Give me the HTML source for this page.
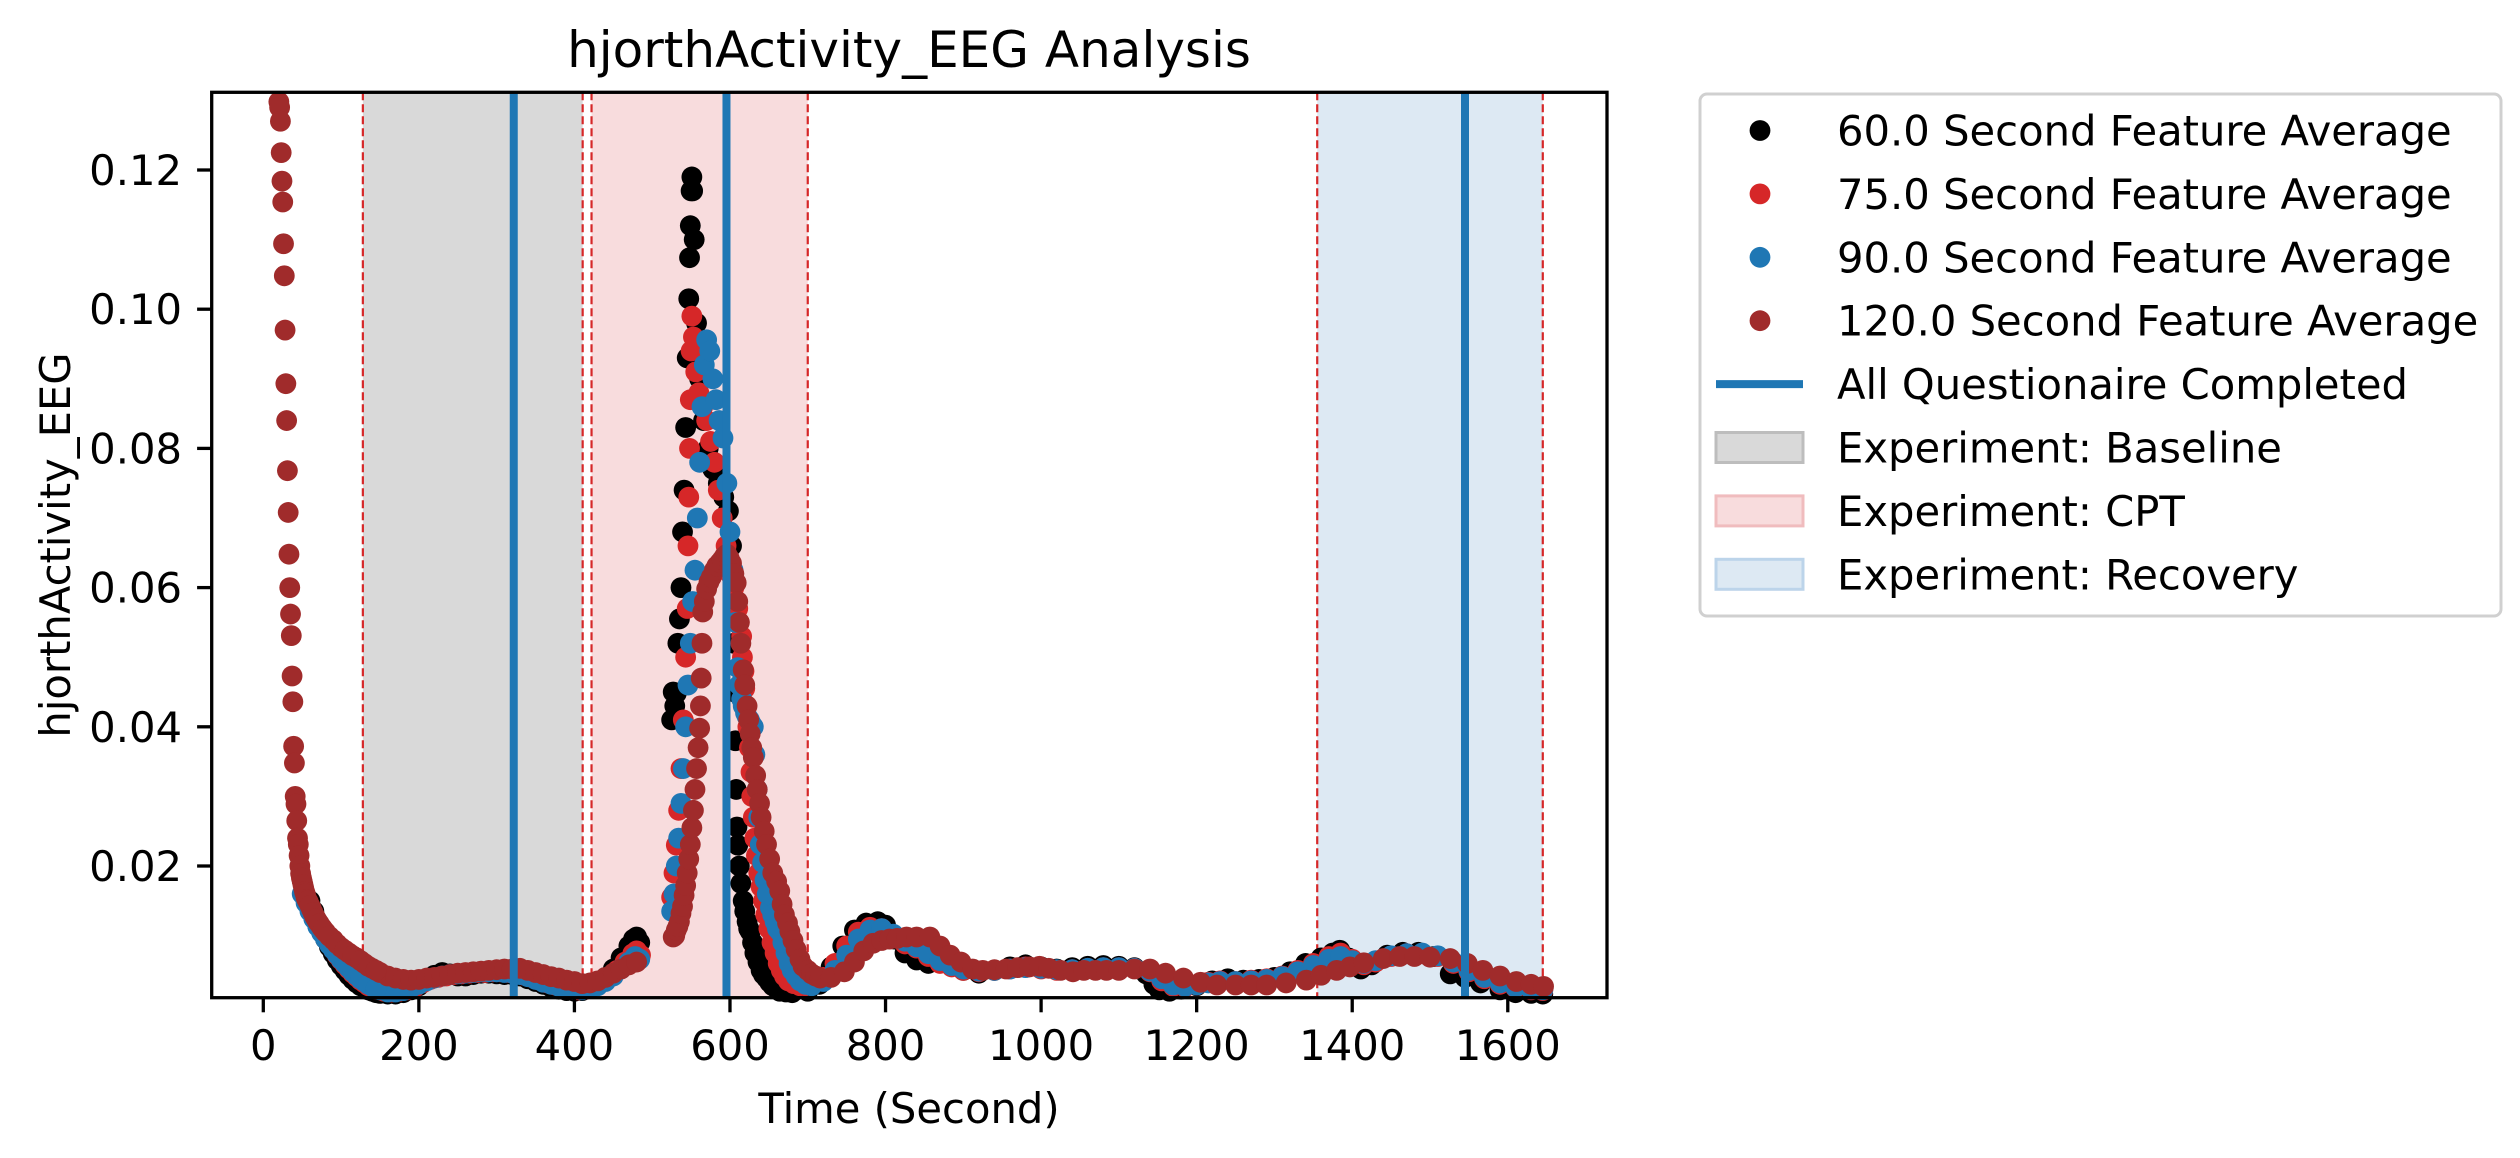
<!DOCTYPE html>
<html><head><meta charset="utf-8"><style>
html,body{margin:0;padding:0;background:#fff;}
svg{display:block;font-family:"DejaVu Sans","Liberation Sans",sans-serif;}
</style></head><body>
<svg id="chart" width="2520" height="1158" viewBox="0 0 2520 1158" xmlns="http://www.w3.org/2000/svg">
<rect x="0" y="0" width="2520" height="1158" fill="#fff"/>
<g id="spans"></g><g id="dots"></g><g id="vlines"></g><g id="axes"></g><g id="legend"></g>
</svg>
<script>
const xTicks=[0,200,400,600,800,1000,1200,1400,1600];
const yTicks=[0.02,0.04,0.06,0.08,0.10,0.12];
const yTickLabels=["0.02","0.04","0.06","0.08","0.10","0.12"];
const spanNames=["Baseline","CPT","Recovery"];
const spanStart=[128,422,1355];
const spanEnd=[410.6,700,1645];
const questionnaireTimes=[322,595.5,1545];
const t60=[60,70,80,90,100,110,120,130,140,150,160,170,180,190,200,210,220,230,240,250,260,270,280,290,300,310,320,330,340,350,360,370,380,390,400,410,420,430,440,450,460,470,476,480,484,525,527,529,531,533,535,537,539,541,543,545,547,548,549,550,551,552,554,557,561,566,572,578,585,592,598,602,604,605,606,607,608,609,612,617,622,626,632,640,647,655,664,680,700,715,730,745,760,775,790,800,812,825,840,855,870,885,900,920,940,960,980,1000,1020,1040,1060,1080,1100,1120,1135,1145,1152,1165,1180,1200,1220,1240,1260,1280,1300,1320,1340,1360,1375,1384,1395,1411,1425,1445,1465,1485,1505,1526,1545,1565,1590,1610,1630,1645,
610,614,619,624,629,636,643,651,660,672,65,75,85,95,105,115,125,135,145];
const v60=[0.0150,0.0120,0.0095,0.0074,0.0057,0.0043,0.0032,0.0025,0.0020,0.0017,0.0016,0.0016,0.0018,0.0022,0.0028,0.0036,0.0043,0.0047,0.0045,0.0042,0.0042,0.0044,0.0046,0.0046,0.0045,0.0044,0.0044,0.0042,0.0038,0.0034,0.0030,0.0026,0.0023,0.0021,0.0020,0.0021,0.0025,0.0031,0.0040,0.0052,0.0068,0.0085,0.0095,0.0098,0.0090,0.041,0.045,0.043,0.0448,0.052,0.0555,0.060,0.068,0.074,0.083,0.093,0.1015,0.1074,0.112,0.117,0.119,0.117,0.110,0.098,0.090,0.084,0.080,0.077,0.075,0.073,0.071,0.066,0.060,0.052,0.045,0.038,0.031,0.0256,0.020,0.015,0.012,0.0106,0.0075,0.0050,0.0039,0.0028,0.0020,0.0018,0.0020,0.0030,0.0055,0.0085,0.0108,0.0118,0.0120,0.0115,0.0095,0.0075,0.0065,0.0060,0.0062,0.0058,0.0050,0.0046,0.0050,0.0055,0.0058,0.0055,0.0052,0.0054,0.0056,0.0057,0.0056,0.0054,0.0045,0.0030,0.0022,0.0020,0.0023,0.0028,0.0035,0.0038,0.0036,0.0037,0.0040,0.0048,0.0060,0.0068,0.0075,0.0079,0.0068,0.0052,0.0058,0.0072,0.0076,0.0076,0.0070,0.0045,0.0040,0.0032,0.0022,0.0018,0.0017,0.0016,
0.023,0.0175,0.0135,0.011,0.009,0.0062,0.0044,0.0033,0.0024,0.0019,0.0135,0.0107,0.0084,0.0065,0.0050,0.0037,0.0028,0.0022,0.0018];
const t75=[55,65,75,85,95,105,115,125,135,145,155,165,175,185,195,205,215,225,235,245,255,265,275,285,295,305,315,325,335,345,355,365,375,385,395,405,415,425,435,445,455,465,475,480,485,525,528,531,534,537,540,543,545,546,547,548,549,550,551,553,556,560,565,570,575,580,585,590,595,600,605,610,615,618,621,625,628,632,637,643,650,658,666,675,690,705,720,735,750,765,780,795,810,825,840,855,870,885,900,920,940,960,980,1000,1020,1040,1060,1080,1100,1120,1140,1155,1170,1185,1200,1215,1230,1250,1270,1290,1310,1330,1350,1370,1385,1400,1415,1430,1450,1470,1490,1510,1530,1550,1570,1590,1610,1630,1645,
612,616,619,623,627,630,634,640,646,654,662,670,682,697,60,70,80,90,100,110,120,130,140];
const v75=[0.0150,0.0125,0.0105,0.0088,0.0072,0.0058,0.0046,0.0036,0.0028,0.0023,0.0020,0.0019,0.0020,0.0022,0.0026,0.0032,0.0037,0.0040,0.0042,0.0044,0.0045,0.0046,0.0047,0.0047,0.0048,0.0048,0.0047,0.0046,0.0043,0.0040,0.0036,0.0032,0.0029,0.0026,0.0024,0.0022,0.0023,0.0027,0.0033,0.0040,0.0050,0.0062,0.0074,0.0078,0.0072,0.0155,0.019,0.023,0.028,0.034,0.041,0.050,0.057,0.066,0.073,0.080,0.087,0.094,0.099,0.096,0.091,0.088,0.086,0.084,0.081,0.078,0.074,0.070,0.066,0.062,0.060,0.057,0.053,0.048,0.043,0.037,0.030,0.024,0.019,0.015,0.011,0.0075,0.0050,0.0035,0.0028,0.0030,0.0040,0.0060,0.0085,0.0105,0.0112,0.0110,0.0098,0.0088,0.0082,0.0070,0.0060,0.0055,0.0050,0.0048,0.0050,0.0052,0.0055,0.0052,0.0050,0.0051,0.0053,0.0054,0.0054,0.0053,0.0048,0.0035,0.0027,0.0026,0.0029,0.0033,0.0035,0.0034,0.0036,0.0038,0.0042,0.0050,0.0060,0.0070,0.0075,0.0066,0.0058,0.0062,0.0070,0.0074,0.0074,0.0070,0.0060,0.0048,0.0038,0.0030,0.0025,0.0022,0.0021,
0.055,0.050,0.0455,0.040,0.0335,0.027,0.0215,0.017,0.013,0.009,0.006,0.0042,0.0031,0.0028,0.0137,0.0115,0.0096,0.0080,0.0065,0.0052,0.0041,0.0032,0.0025];
const t90=[50,60,70,80,90,100,110,120,130,140,150,160,170,180,190,200,210,220,230,240,250,260,270,280,290,300,310,320,330,340,350,360,370,380,390,400,410,420,430,440,450,460,470,478,484,525,528,531,534,537,540,543,546,549,552,555,558,561,564,567,570,574,578,582,586,591,596,600,604,607,610,615,620,625,630,635,639,645,652,658,664,672,680,690,705,720,735,750,765,780,795,810,825,840,855,870,885,900,920,940,960,980,1000,1020,1040,1060,1080,1100,1120,1140,1155,1170,1185,1200,1215,1230,1250,1270,1290,1310,1330,1350,1370,1385,1400,1415,1430,1450,1470,1490,1510,1530,1550,1570,1590,1610,1630,1645,
612,617,622,627,632,637,642,648,655,661,668,676,685,697,55,65,75,85,95,105,115,125,135,145];
const v90=[0.0160,0.0135,0.0113,0.0095,0.0080,0.0066,0.0054,0.0043,0.0034,0.0027,0.0022,0.0019,0.0019,0.0021,0.0025,0.0030,0.0035,0.0039,0.0042,0.0044,0.0045,0.0046,0.0047,0.0048,0.0048,0.0048,0.0047,0.0046,0.0044,0.0041,0.0037,0.0033,0.0030,0.0027,0.0025,0.0023,0.0022,0.0024,0.0028,0.0034,0.0042,0.0052,0.0062,0.0070,0.0066,0.0135,0.016,0.020,0.024,0.029,0.034,0.040,0.046,0.052,0.058,0.0625,0.070,0.078,0.086,0.092,0.0956,0.094,0.090,0.087,0.084,0.0815,0.075,0.068,0.0625,0.055,0.0485,0.044,0.042,0.041,0.040,0.031,0.0231,0.018,0.014,0.012,0.0106,0.0075,0.0050,0.0035,0.0028,0.0034,0.0050,0.0072,0.0095,0.0108,0.0110,0.0102,0.0092,0.0084,0.0074,0.0064,0.0057,0.0052,0.0049,0.0050,0.0052,0.0054,0.0053,0.0051,0.0051,0.0053,0.0054,0.0054,0.0053,0.0049,0.0038,0.0029,0.0027,0.0029,0.0032,0.0034,0.0034,0.0035,0.0037,0.0041,0.0048,0.0057,0.0066,0.0070,0.0064,0.0060,0.0064,0.0071,0.0074,0.0075,0.0071,0.0062,0.0050,0.0040,0.0032,0.0026,0.0023,0.0022,
0.046,0.043,0.0415,0.0405,0.036,0.027,0.0205,0.016,0.013,0.011,0.009,0.006,0.0042,0.0030,0.0147,0.0124,0.0104,0.0087,0.0073,0.0060,0.0048,0.0038,0.0030,0.0024];
const t120=[20,21,22,23,24,25,26,27,28,29,30,31,32,33,34,35,36,37,38,39,40,41,42,43,44,45,46,47,48,50,52,55,58,62,66,70,75,80,90,100,110,120,130,140,150,160,170,180,190,200,210,220,230,240,250,260,270,280,290,300,310,320,330,340,350,360,370,380,390,400,410,420,430,440,450,460,470,480,
527,529,531,533,535,537,539,541,543,545,547,549,551,553,555,557,559,561,562,563,564,565,567,570,573,576,580,583,587,590,593,596,599,602,605,608,610,612,614,617,619,622,624,626,628,630,633,635,638,640,644,647,651,655,660,664,667,670,674,677,681,685,690,694,700,705,710,716,
730,747,760,772,784,795,805,815,827,840,857,870,883,897,912,925,940,955,970,985,998,1010,1025,1041,1055,1070,1084,1100,1120,1140,1160,1183,1205,1226,1250,1270,1290,1315,1341,1360,1380,1397,1415,1440,1461,1480,1500,1526,1548,1568,1590,1611,1630,1646,
49,51,53,54,56,57,60,64,68,72,77,85,95,105,115,125,135,145];
const v120=[0.1298,0.1290,0.1270,0.1225,0.1184,0.1154,0.1094,0.1048,0.0970,0.0893,0.0840,0.0768,0.0708,0.0648,0.0600,0.0562,0.0531,0.0473,0.0436,0.0372,0.0348,0.0300,0.0289,0.0265,0.0240,0.0231,0.0215,0.0200,0.0189,0.0178,0.0168,0.0155,0.0148,0.0138,0.0128,0.0120,0.0112,0.0105,0.0094,0.0083,0.0075,0.0068,0.0060,0.0053,0.0047,0.0042,0.0039,0.0037,0.0036,0.0037,0.0039,0.0040,0.0042,0.0044,0.0046,0.0047,0.0048,0.0049,0.0050,0.0051,0.0052,0.0052,0.0053,0.0050,0.0047,0.0044,0.0041,0.0039,0.0036,0.0034,0.0031,0.0032,0.0035,0.0040,0.0046,0.0052,0.0058,0.0062,
0.0098,0.0100,0.0108,0.0113,0.012,0.0132,0.0142,0.0158,0.0172,0.019,0.021,0.0231,0.0255,0.028,0.031,0.034,0.037,0.0398,0.043,0.047,0.052,0.0565,0.058,0.0598,0.0608,0.0615,0.0625,0.0631,0.0636,0.064,0.0645,0.0648,0.0642,0.0635,0.062,0.0607,0.058,0.055,0.052,0.0482,0.046,0.043,0.041,0.039,0.037,0.0356,0.033,0.031,0.029,0.027,0.025,0.0231,0.021,0.019,0.0178,0.0164,0.0145,0.013,0.0118,0.0106,0.0093,0.008,0.0066,0.0056,0.005,0.0045,0.0042,0.0039,
0.0040,0.0048,0.0062,0.0078,0.0089,0.0093,0.0095,0.0096,0.0098,0.0098,0.0098,0.0085,0.0072,0.0062,0.0052,0.0050,0.0051,0.0052,0.0054,0.0055,0.0056,0.0053,0.0050,0.0048,0.0050,0.0050,0.0050,0.0050,0.0052,0.0052,0.0046,0.0039,0.0033,0.0029,0.0029,0.0029,0.0029,0.0032,0.0036,0.0043,0.0050,0.0055,0.0061,0.0067,0.0070,0.0070,0.0069,0.0067,0.0060,0.0050,0.0042,0.0034,0.0030,0.0027,
0.0183,0.0173,0.0163,0.0160,0.0152,0.0150,0.0143,0.0133,0.0124,0.0117,0.0109,0.0099,0.0088,0.0079,0.0071,0.0064,0.0056,0.0050];

const NS="http://www.w3.org/2000/svg";
const L=211.7,R=1607,T=92.3,B=997.7;
const X0=263.3,XS=0.7778;
const Y02=866,YS=6960;
function xS(t){return X0+t*XS;}
function yS(v){return Y02-(v-0.02)*YS;}
function mk(tag,attrs,parent){const e=document.createElementNS(NS,tag);for(const k in attrs)e.setAttribute(k,attrs[k]);parent.appendChild(e);return e;}

const spanG=document.getElementById('spans');
const spanFill=["#d9d9d9","#f8dcdd","#dde9f3"];
for(let i=0;i<spanNames.length;i++){
  const r=mk('rect',{x:xS(spanStart[i]),y:T,width:xS(spanEnd[i])-xS(spanStart[i]),height:B-T,fill:spanFill[i]},spanG);
  
  
  [spanStart[i],spanEnd[i]].forEach(function(t){
    const d=mk('line',{x1:xS(t),x2:xS(t),y1:T,y2:B,stroke:"#d62728","stroke-width":2.2,"stroke-dasharray":"8,4"},spanG);
    
    
  });
}

const dotG=document.getElementById('dots');
const series=[[t60,v60,"#000000","60"],[t75,v75,"#d62728","75"],[t90,v90,"#1f77b4","90"],[t120,v120,"#a02b2b","120"]];
series.forEach(function(s){
  const g=mk('g',{fill:s[2]},dotG);
  
  
  for(let i=0;i<s[0].length;i++){
    const c=mk('circle',{cx:xS(s[0][i]),cy:yS(s[1][i]),r:10.4},g);
    
    
  }
});

const vG=document.getElementById('vlines');
questionnaireTimes.forEach(function(t){
  const l=mk('line',{x1:xS(t),x2:xS(t),y1:T,y2:B,stroke:"#1f77b4","stroke-width":8},vG);
  
  
});

const ax=document.getElementById('axes');
const frame=mk('rect',{x:L,y:T,width:R-L,height:B-T,fill:"none",stroke:"#000","stroke-width":3.3},ax);


xTicks.forEach(function(t){
  const x=xS(t);
  const tk=mk('line',{x1:x,x2:x,y1:B,y2:B+14.6,stroke:"#000","stroke-width":3.3},ax);
  
  
  const tx=mk('text',{x:x,y:1060,"font-size":41.7,"text-anchor":"middle",fill:"#000"},ax);
  tx.textContent=String(t);
  
  
});
yTicks.forEach(function(v,i){
  const y=yS(v);
  const tk=mk('line',{x1:L-14.6,x2:L,y1:y,y2:y,stroke:"#000","stroke-width":3.3},ax);
  
  
  const tx=mk('text',{x:182,y:y+15,"font-size":41.7,"text-anchor":"end",fill:"#000"},ax);
  tx.textContent=yTickLabels[i];
  
  
});
</script>
<script>
(function(){
const NS="http://www.w3.org/2000/svg";
function mk(tag,attrs,parent){const e=document.createElementNS(NS,tag);for(const k in attrs)e.setAttribute(k,attrs[k]);parent.appendChild(e);return e;}
const ax=document.getElementById('axes');
const title=mk('text',{x:909,y:67,"font-size":50,"text-anchor":"middle",fill:"#000"},ax);
title.textContent="hjorthActivity_EEG Analysis";


const xl=mk('text',{x:909,y:1123,"font-size":41.7,"text-anchor":"middle",fill:"#000"},ax);
xl.textContent="Time (Second)";


const yl=mk('text',{x:0,y:0,"font-size":41.7,"text-anchor":"middle",fill:"#000",transform:"translate(70,545) rotate(-90)"},ax);
yl.textContent="hjorthActivity_EEG";



const lg=document.getElementById('legend');
const box=mk('rect',{x:1700,y:94,width:801,height:522,rx:7,fill:"#fff",stroke:"#d0d0d0","stroke-width":3},lg);


const labels=["60.0 Second Feature Average","75.0 Second Feature Average","90.0 Second Feature Average","120.0 Second Feature Average","All Questionaire Completed","Experiment: Baseline","Experiment: CPT","Experiment: Recovery"];
const kinds=["dot","dot","dot","dot","line","patch","patch","patch"];
const cols=["#000000","#d62728","#1f77b4","#a02b2b","#1f77b4","#d9d9d9","#f8dcdd","#dde9f3"];
const edges=["","","","","","#bdbdbd","#f0bcbe","#bcd4ea"];
for(let i=0;i<labels.length;i++){
  const cy=130.5+63.4*i;
  const g=mk('g',{},lg);
  
  
  if(kinds[i]==="dot") mk('circle',{cx:1760,cy:cy,r:10.4,fill:cols[i]},g);
  else if(kinds[i]==="line") mk('line',{x1:1716,x2:1803,y1:cy,y2:cy,stroke:cols[i],"stroke-width":8},g);
  else mk('rect',{x:1716,y:cy-15,width:87,height:30,fill:cols[i],stroke:edges[i],"stroke-width":3},g);
  const t=mk('text',{x:1837,y:cy+15,"font-size":41.7,fill:"#000"},g);
  t.textContent=labels[i];
}
})();
</script>
</body></html>
